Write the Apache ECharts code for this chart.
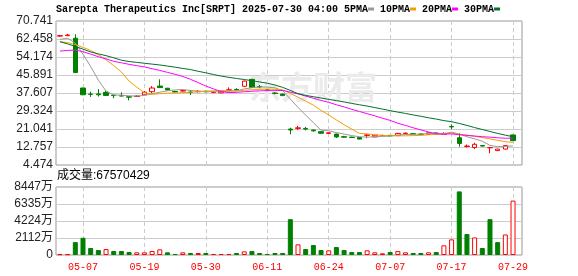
<!DOCTYPE html>
<html>
<head>
<meta charset="utf-8">
<script src="https://cdn.jsdelivr.net/npm/echarts@6.0.0/dist/echarts.min.js"></script>
<style>
  html, body { margin: 0; padding: 0; background: #fff; }
  #chart { width: 578px; height: 276px; }
</style>
</head>
<body>
<div id="chart"></div>
<script>
// trading days shown on the chart
const dates = [
  '05-02', '05-05', '05-06', '05-07', '05-08', '05-09', '05-12', '05-13', '05-14', '05-15',
  '05-16', '05-19', '05-20', '05-21', '05-22', '05-23', '05-27', '05-28', '05-29', '05-30',
  '06-02', '06-03', '06-04', '06-05', '06-06', '06-09', '06-10', '06-11', '06-12', '06-13',
  '06-16', '06-17', '06-18', '06-20', '06-23', '06-24', '06-25', '06-26', '06-27', '06-30',
  '07-01', '07-02', '07-03', '07-07', '07-08', '07-09', '07-10', '07-11', '07-14', '07-15',
  '07-16', '07-17', '07-18', '07-21', '07-22', '07-23', '07-24', '07-25', '07-28', '07-29'
]
const xLabelDates = ['05-07', '05-19', '05-30', '06-11', '06-24', '07-07', '07-17', '07-29']

const open = [
  63.8, 64.0, 62.8, 39.9, 37.1, 37.2, 37.9, 36.6, 36.4, 35.9,
  36.0, 36.8, 38.2, 40.8, 39.8, 38.3, 38.5, 38.0, 38.2, 38.4,
  37.8, 37.7, 38.9, 39.2, 40.7, 43.9, 40.6, 39.1, 37.6, 37.1,
  21.0, 21.3, 21.3, 20.6, 19.8, 19.0, 18.7, 17.5, 17.3, 17.1,
  18.1, 17.4, 18.0, 18.1, 18.0, 18.9, 18.9, 18.7, 18.6, 19.2,
  18.6, 22.2, 17.0, 13.0, 12.5, 13.4, 12.4, 11.1, 11.8, 18.3
]
const close = [
  64.0, 64.3, 47.0, 36.8, 37.0, 36.8, 36.5, 36.4, 36.2, 35.7,
  36.2, 38.0, 39.9, 40.1, 39.0, 38.1, 38.7, 37.9, 38.4, 38.2,
  37.9, 38.6, 39.1, 39.0, 43.1, 40.2, 40.4, 39.0, 37.4, 36.4,
  20.6, 21.6, 21.0, 20.2, 19.1, 19.3, 17.4, 17.3, 17.1, 16.4,
  18.3, 18.2, 18.1, 17.9, 19.0, 19.1, 18.7, 18.6, 19.3, 19.0,
  19.0, 22.0, 14.4, 13.2, 14.0, 13.2, 12.5, 11.8, 13.4, 15.7
]
const low = [
  63.5, 63.8, 46.9, 36.6, 35.8, 36.0, 36.3, 35.2, 36.1, 34.2,
  35.8, 36.6, 37.5, 40.0, 38.8, 37.8, 38.3, 36.7, 37.9, 37.9,
  37.6, 37.5, 38.6, 38.6, 40.3, 40.0, 39.8, 38.5, 37.0, 36.2,
  18.6, 20.6, 20.4, 19.8, 18.9, 18.8, 16.9, 17.0, 16.9, 16.3,
  16.8, 17.3, 17.8, 17.7, 17.9, 18.7, 18.5, 18.4, 18.5, 18.6,
  18.4, 20.9, 12.9, 12.5, 11.8, 13.0, 9.9, 11.0, 11.6, 15.5
]
const high = [
  64.3, 64.8, 64.6, 40.0, 38.2, 39.4, 38.5, 36.9, 37.9, 36.2,
  36.5, 38.5, 40.8, 43.9, 40.0, 38.6, 39.1, 39.0, 38.9, 38.7,
  38.4, 38.8, 40.2, 39.8, 43.3, 44.1, 41.3, 39.5, 38.0, 37.3,
  21.6, 22.5, 22.0, 20.8, 19.9, 19.6, 18.9, 17.9, 17.5, 17.2,
  18.7, 18.3, 18.3, 18.2, 19.3, 19.5, 19.0, 18.9, 19.4, 19.4,
  19.5, 23.2, 19.1, 13.9, 14.7, 13.6, 12.6, 11.9, 13.6, 18.5
]

const ma5 = [
  62.3, 62.8, 60.5, 55.5, 49.8, 43.5, 38.5, 36.7, 36.6, 36.3,
  36.2, 36.5, 37.2, 38.0, 38.6, 39.0, 39.2, 38.8, 38.4, 38.3,
  38.2, 38.2, 38.4, 38.6, 39.5, 40.0, 40.4, 40.3, 40.0, 38.7,
  34.8, 31.0, 27.4, 24.0, 20.5, 20.2, 19.4, 18.7, 18.0, 17.5,
  17.3, 17.5, 17.6, 17.8, 18.3, 18.5, 18.6, 18.7, 18.9, 18.9,
  18.9, 19.6, 18.7, 17.5, 16.5, 15.4, 13.5, 12.9, 13.0, 13.3
]
const ma10 = [
  61.2, 60.8, 59.9, 58.6, 57.2, 55.2, 52.9, 50.2, 47.3, 43.1,
  40.3, 37.7, 37.0, 37.3, 37.5, 37.6, 37.8, 38.0, 38.2, 38.4,
  38.6, 38.7, 38.6, 38.5, 38.9, 39.1, 39.3, 39.4, 39.3, 39.1,
  37.4, 35.7, 33.9, 32.0, 29.6, 27.5, 25.2, 23.0, 21.0, 19.0,
  18.8, 18.4, 18.1, 17.9, 17.9, 17.9, 18.0, 18.1, 18.4, 18.6,
  18.7, 19.1, 18.7, 18.2, 17.7, 17.1, 16.5, 15.8, 15.2, 14.9
]
const ma20 = [
  56.9, 57.2, 57.4, 56.6, 55.5, 54.3, 53.3, 52.2, 51.5, 50.8,
  50.2, 49.6, 48.8, 48.0, 47.1, 46.2, 45.2, 43.9, 42.4, 40.8,
  39.5, 38.2, 37.8, 37.9, 38.2, 38.4, 38.6, 38.7, 38.7, 38.8,
  38.0, 37.2, 36.2, 35.2, 34.2, 33.3, 32.2, 31.2, 30.1, 29.1,
  28.1, 27.1, 26.0, 25.0, 23.7, 22.7, 21.6, 20.6, 19.7, 18.8,
  18.7, 18.8, 18.4, 18.1, 17.8, 17.5, 17.3, 17.0, 16.8, 16.8
]
const ma30 = [
  61.2, 60.2, 59.0, 57.8, 56.5, 55.6, 54.8, 53.8, 52.7, 52.1,
  51.7, 51.3, 50.9, 50.5, 50.0, 49.5, 48.9, 48.4, 47.6, 46.9,
  46.1, 45.4, 44.8, 44.3, 43.8, 43.3, 42.7, 42.1, 41.3, 40.2,
  38.8, 37.3, 36.5, 35.9, 35.3, 34.7, 34.1, 33.5, 32.8, 32.2,
  31.6, 30.9, 30.2, 29.5, 28.8, 28.2, 27.5, 26.9, 26.2, 25.6,
  24.9, 24.4, 23.6, 22.7, 21.7, 20.8, 19.9, 19.0, 18.2, 17.5
]

// volume in 万 shares, and bar colour (1 = red/up, -1 = green/down)
const volume = [
  100, 100, 1600, 2140, 870, 620, 740, 500, 500, 370,
  330, 330, 500, 700, 330, 120, 330, 250, 250, 250,
  120, 120, 120, 250, 450, 500, 250, 120, 250, 250,
  4450, 1320, 740, 1240, 620, 580, 990, 620, 370, 370,
  580, 330, 210, 370, 490, 330, 250, 250, 330, 370,
  1200, 1940, 7900, 2600, 2180, 870, 4450, 1600, 2550, 6757.0429
]
const volumeDir = [
  1, 1, -1, -1, -1, -1, 1, -1, -1, -1,
  1, 1, 1, 1, -1, -1, 1, -1, 1, -1,
  1, 1, 1, -1, 1, -1, -1, -1, -1, -1,
  -1, 1, -1, -1, -1, 1, -1, -1, -1, -1,
  1, 1, 1, -1, 1, 1, -1, -1, 1, -1,
  1, 1, -1, -1, 1, -1, -1, -1, 1, 1
]

const priceTicks = ['4.474', '12.757', '21.041', '29.324', '37.607', '45.891', '54.174', '62.458', '70.741']
const volumeTicks = ['0', '2112万', '4224万', '6335万', '8447万']

const PRICE_MIN = 4.474
const PRICE_MAX = 70.741
const VOL_MAX = 8447
const X_MIN = -0.516
const X_MAX = 60.17

const RED = '#ff0000'
const GREEN = '#008000'
const MA_COLORS = ['#999999', '#f0a000', '#ff00ff', '#00702e']
const GRID_LINE = '#cccccc'
const LABEL_FONT = '"Liberation Sans", "Noto Sans CJK SC", sans-serif'
const MONO_FONT = '"Liberation Mono", monospace'

const xTickValues = xLabelDates.map(d => dates.indexOf(d))

function makeXAxis(gridIndex, showLabel) {
  return {
    type: 'value',
    gridIndex,
    min: X_MIN,
    max: X_MAX,
    axisLine: { show: false },
    axisTick: { show: false, customValues: xTickValues },
    axisLabel: {
      show: showLabel,
      customValues: xTickValues,
      formatter: v => dates[Math.round(v)],
      color: RED,
      fontFamily: MONO_FONT,
      fontSize: 10,
      margin: 7,
    },
    splitLine: { show: true, lineStyle: { color: GRID_LINE, type: [4, 3], width: 1 } },
  }
}

function makeMaSeries(name, values, color) {
  return {
    name,
    type: 'line',
    xAxisIndex: 0,
    yAxisIndex: 0,
    data: values.map((v, i) => [i, v]),
    symbol: 'none',
    lineStyle: { color, width: 1 },
    itemStyle: { color },
    z: 3,
  }
}

const chart = echarts.init(document.getElementById('chart'))
const priceInterval = (PRICE_MAX - PRICE_MIN) / 8

chart.setOption({
  animation: false,
  backgroundColor: '#fff',
  title: {
    left: 56,
    top: 3,
    padding: 0,
    text: '{t|Sarepta Therapeutics Inc[SRPT] 2025-07-30 04:00 5PMA}{m5|}{t| 10PMA}{m10|}{t| 20PMA}{m20|}{t| 30PMA}{m30|}',
    textStyle: {
      rich: {
        t: { fontFamily: MONO_FONT, fontSize: 10, color: '#000', lineHeight: 12 },
        m5: { width: 6, height: 3, backgroundColor: MA_COLORS[0] },
        m10: { width: 6, height: 3, backgroundColor: MA_COLORS[1] },
        m20: { width: 6, height: 3, backgroundColor: MA_COLORS[2] },
        m30: { width: 6, height: 3, backgroundColor: MA_COLORS[3] },
      },
    },
  },
  graphic: [
    {
      type: 'text',
      left: 249,
      top: 71,
      z: 1,
      style: {
        text: '东方财富',
        font: 'bold 32px "Noto Sans CJK SC"',
        fill: '#ebebeb',
      },
    },
    {
      type: 'text',
      left: 57,
      top: 170,
      style: {
        text: '成交量:67570429',
        font: '12px ' + LABEL_FONT,
        fill: '#000',
      },
    },
  ],
  grid: [
    { left: 56, right: 56, top: 21, height: 144, show: true, borderColor: '#999', borderWidth: 1, backgroundColor: 'transparent' },
    { left: 56, right: 56, top: 187, height: 68, show: true, borderColor: '#999', borderWidth: 1, backgroundColor: 'transparent' },
  ],
  xAxis: [makeXAxis(0, false), makeXAxis(1, true)],
  yAxis: [
    {
      type: 'value',
      gridIndex: 0,
      min: PRICE_MIN,
      max: PRICE_MAX,
      interval: priceInterval,
      axisLine: { show: false },
      axisTick: { show: false },
      axisLabel: {
        formatter: v => priceTicks[Math.round((v - PRICE_MIN) / priceInterval)],
        color: '#222',
        fontFamily: LABEL_FONT,
        fontSize: 12,
        margin: 3,
      },
      splitLine: { lineStyle: { color: GRID_LINE, width: 1 } },
    },
    {
      type: 'value',
      gridIndex: 1,
      min: 0,
      max: VOL_MAX,
      interval: VOL_MAX / 4,
      axisLine: { show: false },
      axisTick: { show: false },
      axisLabel: {
        formatter: v => volumeTicks[Math.round(v / (VOL_MAX / 4))],
        color: '#222',
        fontFamily: LABEL_FONT,
        fontSize: 12,
        margin: 3,
      },
      splitLine: { lineStyle: { color: GRID_LINE, width: 1 } },
    },
  ],
  series: [
    {
      name: 'K',
      type: 'candlestick',
      xAxisIndex: 0,
      yAxisIndex: 0,
      barWidth: 5,
      data: dates.map((d, i) => [i, open[i], close[i], low[i], high[i]]),
      itemStyle: {
        color: '#fff',
        color0: GREEN,
        borderColor: RED,
        borderColor0: GREEN,
        borderWidth: 1,
      },
      z: 2,
    },
    makeMaSeries('5PMA', ma5, MA_COLORS[0]),
    makeMaSeries('10PMA', ma10, MA_COLORS[1]),
    makeMaSeries('20PMA', ma20, MA_COLORS[2]),
    makeMaSeries('30PMA', ma30, MA_COLORS[3]),
    {
      name: '成交量',
      type: 'bar',
      xAxisIndex: 1,
      yAxisIndex: 1,
      barWidth: 5,
      data: volume.map((v, i) => ({
        value: [i, v],
        itemStyle: volumeDir[i] > 0
          ? { color: '#fff', borderColor: RED, borderWidth: 1 }
          : { color: GREEN, borderColor: GREEN, borderWidth: 1 },
      })),
    },
  ],
})
</script>
</body>
</html>
